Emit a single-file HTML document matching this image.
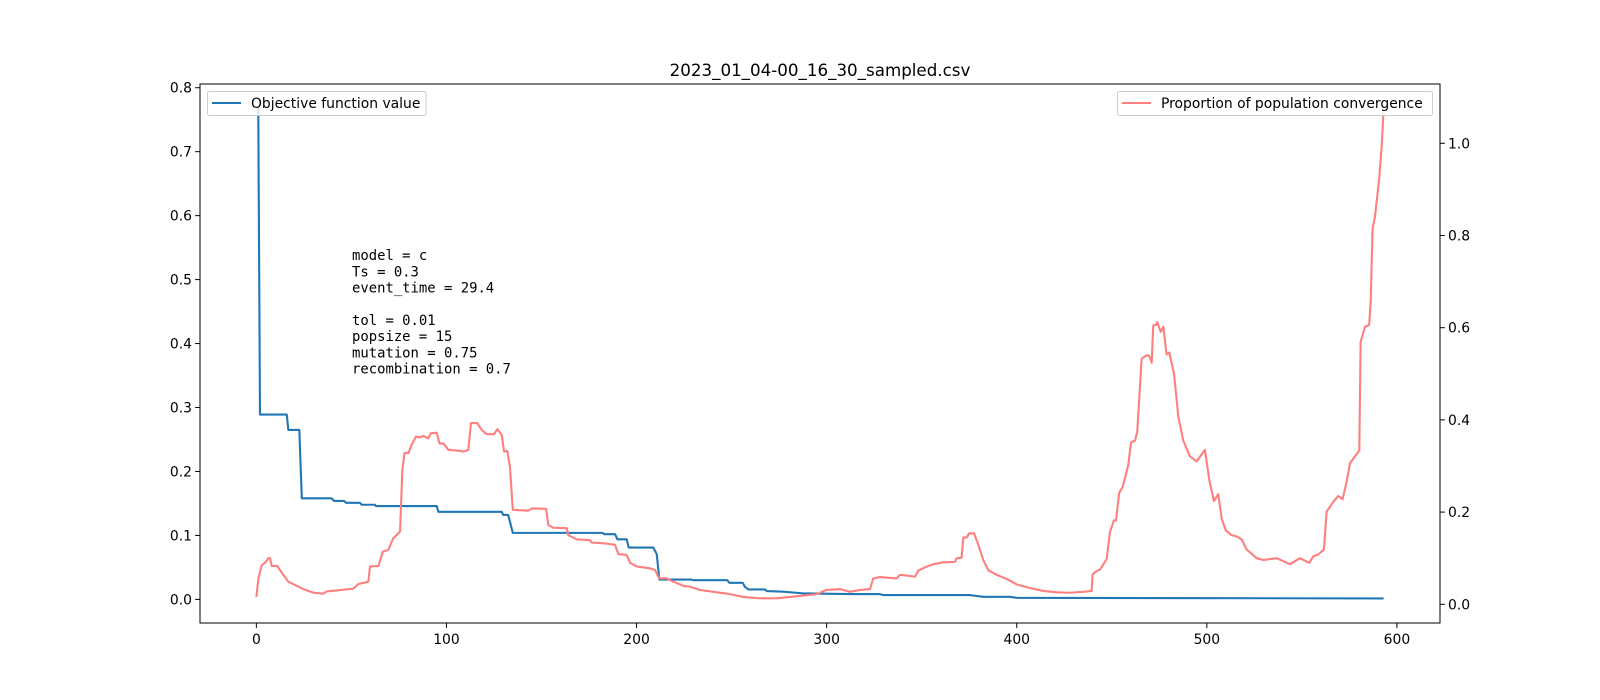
<!DOCTYPE html>
<html><head><meta charset="utf-8"><style>
html,body{margin:0;padding:0;background:#fff}
svg{display:block}
text{font-family:"DejaVu Sans","Liberation Sans",sans-serif;fill:#000}
.mono{font-family:"DejaVu Sans Mono","Liberation Mono",monospace}
</style></head><body>
<svg id="chart" width="1600" height="700" viewBox="0 0 1600 700" xmlns="http://www.w3.org/2000/svg">
<rect x="0" y="0" width="1600" height="700" fill="#fff"/>
<text x="820" y="76" font-size="16.7" text-anchor="middle">2023_01_04-00_16_30_sampled.csv</text>
<g id="plot"></g>
<g class="mono" font-size="13.9">
<text class="mono" x="352" y="260" font-size="13.9">model = c</text>
<text class="mono" x="352" y="276.3" font-size="13.9">Ts = 0.3</text>
<text class="mono" x="352" y="292.5" font-size="13.9">event_time = 29.4</text>
<text class="mono" x="352" y="325" font-size="13.9">tol = 0.01</text>
<text class="mono" x="352" y="341.2" font-size="13.9">popsize = 15</text>
<text class="mono" x="352" y="357.4" font-size="13.9">mutation = 0.75</text>
<text class="mono" x="352" y="373.6" font-size="13.9">recombination = 0.7</text>
</g>
<g>
<rect x="207.5" y="91.5" width="218.5" height="24" rx="2" fill="#fff" fill-opacity="0.8" stroke="#ccc"/>
<line x1="212" y1="103" x2="241" y2="103" stroke="#1f77b4" stroke-width="2.1"/>
<text x="251" y="108" font-size="13.9">Objective function value</text>
</g>
<g>
<rect x="1117.5" y="91.5" width="315" height="24" rx="2" fill="#fff" fill-opacity="0.8" stroke="#ccc"/>
<line x1="1122" y1="103" x2="1151" y2="103" stroke="#ff7f7f" stroke-width="2.1"/>
<text x="1161" y="108" font-size="13.9">Proportion of population convergence</text>
</g>
</svg>
<script>
const xTicks=[0,100,200,300,400,500,600];
const yLeftTicks=[0.0,0.1,0.2,0.3,0.4,0.5,0.6,0.7,0.8];
const yRightTicks=[0.0,0.2,0.4,0.6,0.8,1.0];
const objX=[0,1,1.9,16,16.8,22.6,23.9,39.6,40.9,46.1,47.2,54.5,55.4,62.4,62.9,94.9,95.7,129,129.9,132.5,134.9,182.2,182.9,188.7,189.9,194.8,195.9,208.8,210.6,212,229,229.9,247.7,248.8,255.8,257,258.8,267.6,268.5,277.2,287.7,289.5,312.3,328,329.8,375.4,382.4,396.4,400,593];
const objY=[0.77,0.77,0.289,0.289,0.265,0.265,0.158,0.158,0.154,0.154,0.151,0.151,0.148,0.148,0.146,0.146,0.137,0.137,0.132,0.132,0.104,0.104,0.102,0.102,0.094,0.094,0.081,0.081,0.071,0.031,0.031,0.030,0.030,0.026,0.026,0.0197,0.0156,0.0156,0.013,0.012,0.0094,0.0094,0.0083,0.0083,0.0067,0.0067,0.004,0.004,0.0025,0.0015];
const convX=[0,1.1,2.8,4.6,6.3,7.2,8.1,11,13.3,16.8,21.2,24.7,30,35.2,37,42.3,51,53.7,58.9,59.8,64.2,66.5,69.4,72,75.6,76.8,77.9,80,81.7,84,86.1,87.8,90.5,91.7,94.9,96.3,98.4,101,107.1,108.9,111.5,112.9,116.2,118.6,121.2,125,126.8,129.1,130.3,132,133.4,134.9,143.1,144.9,152.4,153.6,156.2,163.3,164.1,168.5,175.5,176.4,183.4,188.7,190.4,194.8,196.6,200.1,207.1,209.7,212,215.9,219.4,224.6,228.1,233.4,240.4,249.2,256.2,265,273.7,280.7,287.7,294.8,299.7,307,312.3,317.5,322.8,324.5,328.1,336.8,338.6,346.5,348.2,351.7,356.1,361.4,367.5,368.4,371,371.9,373.7,375,377.5,379.8,382.4,385,389.4,394.7,400,407,414,421,428,435,439.4,439.9,442,443.8,447.3,449,451.1,452.2,453.9,455.7,458.7,460.1,462.2,463.4,465.7,468.3,469.7,471,471.8,473.2,473.9,475.7,477.1,478.8,480.2,482.7,485,487.6,491.1,494.6,499,501.3,503.7,506,507.8,510,513,515.7,518.3,520.9,526.2,529.7,536.7,543.7,549,553.9,556,558.6,561.6,563,566.5,569.1,571.4,573.5,575.3,577.9,580.2,580.9,583.2,585.4,586.2,587.2,588.4,590.7,592,592.9];
const convY=[0.016,0.056,0.085,0.090,0.100,0.100,0.083,0.083,0.069,0.049,0.040,0.033,0.025,0.023,0.028,0.030,0.034,0.044,0.049,0.082,0.083,0.114,0.118,0.143,0.158,0.291,0.328,0.328,0.346,0.364,0.362,0.365,0.360,0.371,0.372,0.349,0.349,0.335,0.333,0.331,0.335,0.393,0.393,0.378,0.369,0.369,0.380,0.367,0.331,0.333,0.298,0.205,0.203,0.208,0.207,0.172,0.166,0.165,0.150,0.141,0.139,0.134,0.132,0.129,0.109,0.107,0.090,0.082,0.078,0.074,0.056,0.056,0.049,0.040,0.038,0.031,0.027,0.022,0.016,0.013,0.013,0.016,0.019,0.022,0.031,0.033,0.027,0.031,0.033,0.056,0.059,0.056,0.064,0.060,0.073,0.080,0.087,0.091,0.092,0.100,0.101,0.145,0.145,0.154,0.154,0.129,0.096,0.074,0.064,0.055,0.043,0.035,0.029,0.026,0.025,0.027,0.029,0.065,0.072,0.075,0.098,0.156,0.182,0.182,0.242,0.254,0.303,0.351,0.355,0.375,0.533,0.540,0.539,0.524,0.605,0.606,0.612,0.591,0.602,0.542,0.546,0.501,0.407,0.355,0.321,0.310,0.335,0.269,0.224,0.239,0.186,0.160,0.150,0.147,0.141,0.119,0.100,0.096,0.100,0.087,0.100,0.090,0.104,0.108,0.119,0.201,0.222,0.235,0.228,0.265,0.306,0.321,0.333,0.569,0.602,0.606,0.659,0.816,0.839,0.925,0.996,1.067];

const L=200,R=1440,T=84,B=623;
const xMin=-29.65,xMax=622.65;
const yLMin=-0.0369,yLMax=0.8058;
const yRMin=-0.0406,yRMax=1.1286;
function sx(v){return L+(v-xMin)/(xMax-xMin)*(R-L);}
function syL(v){return B-(v-yLMin)/(yLMax-yLMin)*(B-T);}
function syR(v){return B-(v-yRMin)/(yRMax-yRMin)*(B-T);}
const NS='http://www.w3.org/2000/svg';
const g=document.getElementById('plot');
function mk(tag,attrs,parent){const e=document.createElementNS(NS,tag);for(const k in attrs)e.setAttribute(k,attrs[k]);(parent||g).appendChild(e);return e;}
const clip=mk('clipPath',{id:'clipA'});
mk('rect',{x:L,y:T,width:R-L,height:B-T},clip);

// series
let d='';
objX.forEach((x,i)=>{d+=(i?'L':'M')+sx(x).toFixed(2)+' '+syL(objY[i]).toFixed(2);});
const objLine=mk('path',{d:d,fill:'none',stroke:'#1f77b4','stroke-width':2.1,'stroke-linejoin':'round','clip-path':'url(#clipA)'});


d='';
convX.forEach((x,i)=>{d+=(i?'L':'M')+sx(x).toFixed(2)+' '+syR(convY[i]).toFixed(2);});
const convLine=mk('path',{d:d,fill:'none',stroke:'#ff7f7f','stroke-width':2.1,'stroke-linejoin':'round','clip-path':'url(#clipA)'});



// frame
const frame=mk('rect',{x:L,y:T,width:R-L,height:B-T,fill:'none',stroke:'#000','stroke-width':1});



// x ticks
xTicks.forEach(v=>{
  const x=sx(v);
  const t=mk('line',{x1:x,y1:B,x2:x,y2:B+4.9,stroke:'#000','stroke-width':1});
  
  
  const lb=mk('text',{x:x,y:B+21,'font-size':13.9,'text-anchor':'middle'});
  lb.textContent=String(v);
  
  
});
yLeftTicks.forEach(v=>{
  const y=syL(v);
  const t=mk('line',{x1:L-4.9,y1:y,x2:L,y2:y,stroke:'#000','stroke-width':1});
  
  
  const lb=mk('text',{x:L-8,y:y+5,'font-size':13.9,'text-anchor':'end'});
  lb.textContent=v.toFixed(1);
  
  
});
yRightTicks.forEach(v=>{
  const y=syR(v);
  const t=mk('line',{x1:R,y1:y,x2:R+4.9,y2:y,stroke:'#000','stroke-width':1});
  
  
  const lb=mk('text',{x:R+8,y:y+5,'font-size':13.9,'text-anchor':'start'});
  lb.textContent=v.toFixed(1);
  
  
});
</script>
</body></html>
